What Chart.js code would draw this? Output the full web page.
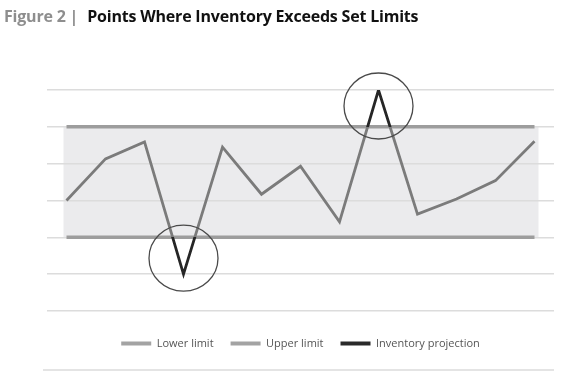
<!DOCTYPE html>
<html><head><meta charset="utf-8">
<script src="https://cdn.jsdelivr.net/npm/chart.js@4"></script>
<style>
html,body{margin:0;padding:0;background:#fff;}
#wrap{position:relative;width:577px;height:381px;overflow:hidden;}
#title{position:absolute;left:4px;top:5px;font-family:"Open Sans",sans-serif;font-weight:700;font-size:16px;white-space:nowrap;color:#111;letter-spacing:-0.2px;}
#title .fig{color:#8e8e8e;margin-right:9px;}
#rule{position:absolute;left:43px;width:511px;top:369px;height:2px;background:#e4e4e4;}
canvas{position:absolute;left:0;top:0;}
</style></head><body>
<div id="wrap"><canvas id="c" width="577" height="381"></canvas>
<div id="title"><span class="fig">Figure 2 |</span>Points Where Inventory Exceeds Set Limits</div>
<div id="rule"></div></div>
<script>
const periods = ['1','2','3','4','5','6','7','8','9','10','11','12','13'];
const inventoryProjection = [3.0, 4.13, 4.59, 1.0, 4.45, 3.17, 3.93, 2.42, 6.0, 2.63, 3.04, 3.54, 4.61];
const lowerLimit = [2,2,2,2,2,2,2,2,2,2,2,2,2];
const upperLimit = [5,5,5,5,5,5,5,5,5,5,5,5,5];
const yMin = 0, yMax = 6, yStep = 1;

const legendColors = ['#a3a3a3', '#a3a3a3', '#2a2a2a'];

function invColor(ctx) {
  const ch = ctx.chart;
  if (!ch.chartArea || !ch.scales.y) return '#7b7b7b';
  const y = ch.scales.y;
  const a = Math.min(Math.max(y.getPixelForValue(upperLimit[0]) / ch.height, 0), 1);
  const b = Math.min(Math.max(y.getPixelForValue(lowerLimit[0]) / ch.height, 0), 1);
  const g = ch.ctx.createLinearGradient(0, 0, 0, ch.height);
  const dark = '#262626', mid = '#7b7b7b';
  g.addColorStop(0, dark); g.addColorStop(a, dark); g.addColorStop(a, mid);
  g.addColorStop(b, mid); g.addColorStop(b, dark); g.addColorStop(1, dark);
  return g;
}

const bandPlugin = {
  id: 'band',
  beforeDraw(chart) {
    const x = chart.scales.x, y = chart.scales.y, c = chart.ctx;
    const x0 = x.getPixelForValue(0) - 3;
    const x1 = x.getPixelForValue(periods.length - 1) + 4;
    const yT = y.getPixelForValue(upperLimit[0]);
    const yB = y.getPixelForValue(lowerLimit[0]);
    c.save();
    c.fillStyle = '#ebebed';
    c.fillRect(x0, yT, x1 - x0, yB - yT);
    c.restore();
  }
};

const circlePlugin = {
  id: 'circles',
  afterDatasetsDraw(chart) {
    const meta = chart.getDatasetMeta(2);
    const c = chart.ctx;
    c.save();
    c.strokeStyle = '#4a4a4a';
    c.lineWidth = 1.3;
    inventoryProjection.forEach((v, i) => {
      if (v > upperLimit[i] || v < lowerLimit[i]) {
        const p = meta.data[i];
        const dir = v > upperLimit[i] ? 1 : -1;
        c.beginPath();
        c.ellipse(p.x, p.y + dir * 16, 34.5, 33, 0, 0, Math.PI * 2);
        c.stroke();
      }
    });
    c.restore();
  }
};

new Chart(document.getElementById('c'), {
  type: 'line',
  data: {
    labels: periods,
    datasets: [
      { label: 'Lower limit', data: lowerLimit, borderColor: '#9d9d9d', borderWidth: 3.5, pointRadius: 0, order: 2 },
      { label: 'Upper limit', data: upperLimit, borderColor: '#9d9d9d', borderWidth: 3.5, pointRadius: 0, order: 1 },
      { label: 'Inventory projection', data: inventoryProjection, borderColor: invColor, borderWidth: 2.8, pointRadius: 0, tension: 0, order: 0, borderJoinStyle: 'miter' }
    ]
  },
  options: {
    responsive: false,
    animation: false,
    devicePixelRatio: 1,
    layout: { padding: { left: 47, right: 23, top: 90, bottom: 22 } },
    scales: {
      x: {
        type: 'category', offset: true,
        grid: { display: false }, border: { display: false },
        ticks: { display: false },
        afterFit(s) { s.height = 10; }
      },
      y: {
        min: yMin, max: yMax,
        ticks: { display: false, stepSize: yStep },
        grid: { color: '#dcdcdc', lineWidth: 1.5, drawTicks: false },
        border: { display: false },
        afterFit(s) { s.width = 0; }
      }
    },
    plugins: {
      tooltip: { enabled: false },
      legend: {
        position: 'bottom',
        labels: {
          boxWidth: 30, boxHeight: 4, padding: 17,
          color: '#555',
          font: { family: '"Open Sans", sans-serif', size: 11 },
          generateLabels(chart) {
            return chart.data.datasets.map((d, i) => ({
              text: d.label, fillStyle: legendColors[i], strokeStyle: legendColors[i],
              lineWidth: 0, hidden: false, datasetIndex: i, fontColor: '#555'
            }));
          }
        }
      }
    }
  },
  plugins: [bandPlugin, circlePlugin]
});
</script>
</body></html>
